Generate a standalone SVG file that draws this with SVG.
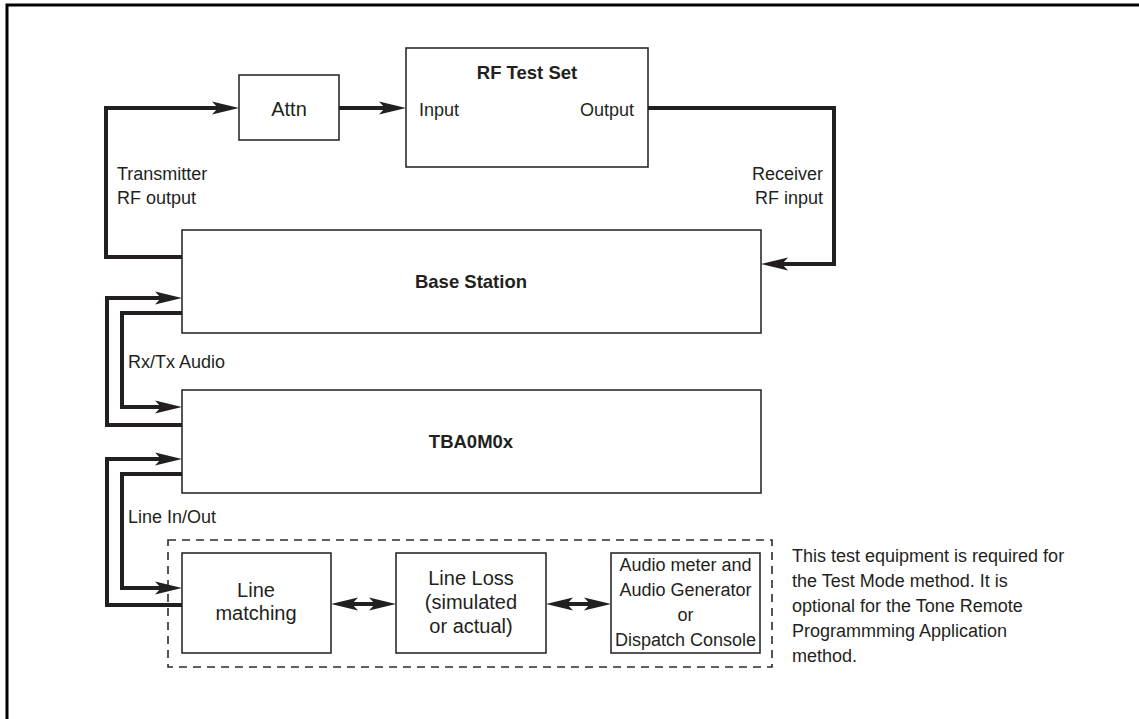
<svg xmlns="http://www.w3.org/2000/svg" width="1139" height="719" viewBox="0 0 1139 719">
<style>
  .box{fill:#fff;stroke:#2b2b2b;stroke-width:1.6}
  .dash{fill:none;stroke:#2b2b2b;stroke-width:1.6;stroke-dasharray:8,6}
  .wire{fill:none;stroke:#231f20;stroke-width:4;stroke-linejoin:miter}
  .lbl{font-family:"Liberation Sans",Arial,sans-serif;font-size:18px;fill:#231f20}
  .hv{font-family:"Liberation Sans",Arial,sans-serif;font-size:20px;fill:#231f20;text-anchor:middle}
  .bold{font-family:"Liberation Sans",Arial,sans-serif;font-size:18.5px;font-weight:bold;fill:#231f20;text-anchor:middle}
  .mid{text-anchor:middle}
  .end{text-anchor:end}
</style>
<defs>
  <marker id="ah" markerUnits="userSpaceOnUse" markerWidth="27" markerHeight="13" refX="6" refY="6.5" orient="auto-start-reverse" overflow="visible">
    <path d="M0,0 L27,6.5 L0,13 L6,6.5 z" fill="#231f20"/>
  </marker>
</defs>

<path d="M7,719 V5 H1139" fill="none" stroke="#000" stroke-width="3"/>

<g id="attn">
  <rect class="box" x="239" y="75" width="100" height="65"/>
  <text class="hv" x="289" y="116">Attn</text>
</g>
<g id="rf-test-set">
  <rect class="box" x="406" y="48" width="242" height="119"/>
  <text class="bold" x="527" y="79">RF Test Set</text>
  <text class="lbl" x="419" y="116">Input</text>
  <text class="lbl end" x="634" y="116">Output</text>
</g>
<g id="base-station">
  <rect class="box" x="182" y="230" width="579" height="103"/>
  <text class="bold" x="471" y="288">Base Station</text>
</g>
<g id="tba0m0x">
  <rect class="box" x="182" y="390" width="579" height="103"/>
  <text class="bold" x="471" y="448">TBA0M0x</text>
</g>
<g id="test-equipment">
  <rect class="dash" x="168" y="540" width="604" height="127"/>
</g>
<g id="line-matching">
  <rect class="box" x="182" y="553" width="149" height="100"/>
  <text class="hv" x="256" y="597">Line</text>
  <text class="hv" x="256" y="620">matching</text>
</g>
<g id="line-loss">
  <rect class="box" x="396" y="553" width="150" height="100"/>
  <text class="hv" x="471" y="585">Line Loss</text>
  <text class="hv" x="471" y="609">(simulated</text>
  <text class="hv" x="471" y="633">or actual)</text>
</g>
<g id="audio">
  <rect class="box" x="611" y="553" width="149" height="100"/>
  <text class="lbl mid" x="685.5" y="571">Audio meter and</text>
  <text class="lbl mid" x="685.5" y="596">Audio Generator</text>
  <text class="lbl mid" x="685.5" y="621">or</text>
  <text class="lbl mid" x="685.5" y="646">Dispatch Console</text>
</g>

<g id="connectors">
  <polyline class="wire" points="182,257 106,257 106,108 218,108" marker-end="url(#ah)"/>
  <line class="wire" x1="339" y1="108" x2="385" y2="108" marker-end="url(#ah)"/>
  <polyline class="wire" points="648,108 834,108 834,264 782,264" marker-end="url(#ah)"/>
  <polyline class="wire" points="182,425 107,425 107,298 161,298" marker-end="url(#ah)"/>
  <polyline class="wire" points="182,313 122,313 122,407 161,407" marker-end="url(#ah)"/>
  <polyline class="wire" points="182,605 107,605 107,459 161,459" marker-end="url(#ah)"/>
  <polyline class="wire" points="182,474 122,474 122,588 161,588" marker-end="url(#ah)"/>
  <line class="wire" stroke-width="3" x1="352" y1="604" x2="375" y2="604" marker-start="url(#ah)" marker-end="url(#ah)"/>
  <line class="wire" stroke-width="3" x1="567" y1="604" x2="590" y2="604" marker-start="url(#ah)" marker-end="url(#ah)"/>
</g>

<g id="labels">
  <text class="lbl" x="117" y="180">Transmitter</text>
  <text class="lbl" x="117" y="204">RF output</text>
  <text class="lbl end" x="823" y="180">Receiver</text>
  <text class="lbl end" x="823" y="204">RF input</text>
  <text class="lbl" x="128" y="368">Rx/Tx Audio</text>
  <text class="lbl" x="128" y="523">Line In/Out</text>
</g>

<g id="note">
  <text class="lbl" x="792" y="562">This test equipment is required for</text>
  <text class="lbl" x="792" y="587">the Test Mode method. It is</text>
  <text class="lbl" x="792" y="612">optional for the Tone Remote</text>
  <text class="lbl" x="792" y="637">Programmming Application</text>
  <text class="lbl" x="792" y="662">method.</text>
</g>
</svg>
